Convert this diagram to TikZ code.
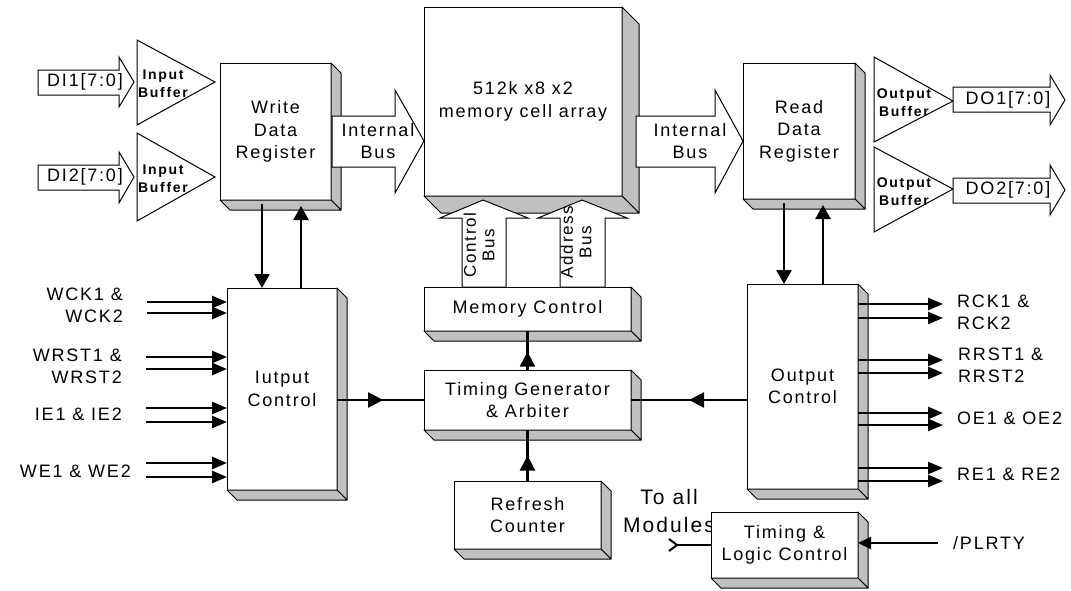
\documentclass[tikz,border=0pt]{standalone}
\usepackage{fontspec}
\setmainfont{Liberation Sans}
\newfontfamily\lab[LetterSpace=10]{Liberation Sans}
\newfontfamily\labb[LetterSpace=12]{Liberation Sans}
\usetikzlibrary{arrows.meta,calc,decorations.markings}
\definecolor{facegray}{HTML}{C0C0C0}
\newcommand\depthfaces[2]{%
  \draw[face] (#1.north east) -- ++(#2,#2) -- ($(#1.south east)+(#2,#2)$) -- (#1.south east) -- cycle;
  \draw[face] (#1.south west) -- (#1.south east) -- ($(#1.south east)+(#2,#2)$) -- ($(#1.south west)+(#2,#2)$) -- cycle;
}
\tikzset{
  blk/.style={draw, fill=white, line width=1pt, inner sep=0pt, outer sep=0pt, align=center, font=\lab\fontsize{18}{22.5}\selectfont},
  face/.style={draw, fill=facegray, line width=1pt, line join=round},
  shp/.style={draw, fill=white, line width=1pt, line join=miter},
  sig/.style={line width=2.6pt, -{Triangle[length=15pt,width=12pt]}},
  lnk/.style={line width=2.6pt, -{Triangle[length=14pt,width=15pt]}},
  midarr/.style={line width=2.2pt, postaction={decorate}, decoration={markings, mark=at position #1 with {\arrow{Triangle[length=15pt,width=15pt]}}}},
  txt/.style={font=\lab\fontsize{18}{22}\selectfont, align=center, inner sep=0pt},
  btxt/.style={font=\labb\bfseries\fontsize{14}{18}\selectfont, align=center, inner sep=0pt},
}
\begin{document}
\begin{tikzpicture}[x=1pt,y=-1pt]
\useasboundingbox (0,0) rectangle (1071,590);

% ---- boxes ----
\node[blk, minimum width=111pt, minimum height=137pt] (wdr) at (275.5,131.5) {Write\\Data\\Register};
\depthfaces{wdr}{10}
\node[blk, minimum width=198pt, minimum height=189pt] (mem) at (523,101.5) {512k x8 x2\\memory cell array};
\depthfaces{mem}{17}
\node[blk, minimum width=112pt, minimum height=136pt] (rdr) at (799,131) {Read\\Data\\Register};
\depthfaces{rdr}{10}
\node[blk, minimum width=110pt, minimum height=202pt] (iuc) at (282,389) {Iutput\\Control};
\depthfaces{iuc}{10}
\node[blk, minimum width=111pt, minimum height=205pt] (ouc) at (802.5,386.5) {Output\\Control};
\depthfaces{ouc}{10}
\node[blk, minimum width=207pt, minimum height=44pt] (mc) at (527.5,309) {Memory Control};
\depthfaces{mc}{10}
\node[blk, minimum width=207pt, minimum height=60pt] (tg) at (527.5,400) {Timing Generator\\\& Arbiter};
\depthfaces{tg}{10}
\node[blk, minimum width=147pt, minimum height=68pt] (rc) at (527.5,515) {Refresh\\Counter};
\depthfaces{rc}{10}
\node[txt, font=\lab\fontsize{21}{28}\selectfont] (tam) at (669,511) {To all\\Modules};
\node[blk, minimum width=147pt, minimum height=66pt] (tlc) at (784.5,545) {Timing \&\\Logic Control};
\depthfaces{tlc}{10}

% ---- input buffers ----
\draw[shp] (137,40) -- (215,82) -- (137,125) -- cycle;
\draw[shp] (137,133) -- (215,177) -- (137,221) -- cycle;
\node[btxt] (ib1) at (163,84) {Input\\Buffer};
\node[btxt] (ib2) at (163,179) {Input\\Buffer};
\draw[shp] (38,70) -- (119,70) -- (119,57) -- (134,82) -- (119,107) -- (119,95) -- (38,95) -- cycle;
\draw[shp] (38,165) -- (119,165) -- (119,152) -- (134,177) -- (119,203) -- (119,190) -- (38,190) -- cycle;
\node[txt] (di1) at (85,82) {DI1[7:0]};
\node[txt] (di2) at (85,177) {DI2[7:0]};

% ---- output buffers ----
\draw[shp] (874,57) -- (953,101) -- (874,142) -- cycle;
\draw[shp] (874,147) -- (953,189) -- (874,232) -- cycle;
\node[btxt] (ob1) at (904,102.5) {Output\\Buffer};
\node[btxt] (ob2) at (904,191.5) {Output\\Buffer};
\draw[shp] (953,87) -- (1050,87) -- (1050,75) -- (1065,100) -- (1050,125) -- (1050,112) -- (953,112) -- cycle;
\draw[shp] (953,178) -- (1050,178) -- (1050,165) -- (1065,190) -- (1050,215) -- (1050,203) -- (953,203) -- cycle;
\node[txt] (do1) at (1008,100) {DO1[7:0]};
\node[txt] (do2) at (1008,190) {DO2[7:0]};

% ---- internal buses ----
\draw[shp] (332,116) -- (395,116) -- (395,90) -- (424,141) -- (395,193) -- (395,167) -- (332,167) -- cycle;
\node[txt] (ib) at (378,141) {Internal\\Bus};
\draw[shp] (636,116) -- (715,116) -- (715,90) -- (743,141) -- (715,193) -- (715,167) -- (636,167) -- cycle;
\node[txt] (ob) at (690,141) {Internal\\Bus};

% ---- control / address buses ----
\draw[shp] (462,287) -- (462,218) -- (440,218) -- (483,200) -- (528,218) -- (506,218) -- (506,287) -- cycle;
\draw[shp] (560,287) -- (560,218) -- (538,218) -- (582,200) -- (627,218) -- (605,218) -- (605,287) -- cycle;
\node[txt, rotate=90, font=\lab\fontsize{17}{18.5}\selectfont] (cbl) at (479,245) {Control\\Bus};
\node[txt, rotate=90, font=\lab\fontsize{17}{18.5}\selectfont] (abl) at (576,242) {Address\\Bus};

% ---- register <-> control arrows ----
\path (wdr.south) ++(-13.5,4) coordinate (wd1);
\draw[lnk] (wd1) -- (wd1 |- iuc.north);
\path (wdr.south) ++(25.5,6) coordinate (wu1);
\draw[lnk] (wu1 |- iuc.north) -- (wu1);
\path (rdr.south) ++(-15,4) coordinate (rd1);
\draw[lnk] (rd1) -- (rd1 |- ouc.north);
\path (rdr.south) ++(24,6) coordinate (ru1);
\draw[lnk] (ru1 |- ouc.north) -- (ru1);

% ---- timing links ----
\draw[midarr=0.53] (iuc.east |- tg.west) -- (tg.west);
\draw[midarr=0.5] (ouc.west |- tg.east) -- (tg.east);
\draw[midarr=0.47] (tg.north) -- (mc.south);
\draw[midarr=0.5] (rc.north) -- (tg.south);

% ---- input signals ----
\coordinate (wck1) at (147,302); \coordinate (wck2) at (147,313);
\coordinate (wrst1) at (146,357); \coordinate (wrst2) at (146,369);
\coordinate (ie1) at (146,408); \coordinate (ie2) at (146,422);
\coordinate (we1) at (146,463); \coordinate (we2) at (146,477);
\foreach \c in {wck1,wck2,wrst1,wrst2,ie1,ie2,we1,we2}
  \draw[sig] (\c) -- (\c -| iuc.west);
\node[txt, align=right, anchor=east] (lwck) at (123,305) {WCK1 \&\\WCK2};
\node[txt, align=right, anchor=east] (lwrst) at (122,366) {WRST1 \&\\WRST2};
\node[txt, anchor=east] (lie) at (122,414) {IE1 \& IE2};
\node[txt, anchor=east] (lwe) at (131,471) {WE1 \& WE2};

% ---- output signals ----
\coordinate (rck1) at (943,304); \coordinate (rck2) at (943,318);
\coordinate (rrst1) at (943,360); \coordinate (rrst2) at (943,373);
\coordinate (oe1) at (943,413); \coordinate (oe2) at (943,425);
\coordinate (re1) at (943,468); \coordinate (re2) at (943,481);
\foreach \c in {rck1,rck2,rrst1,rrst2,oe1,oe2,re1,re2}
  \draw[sig] (\c -| ouc.east) -- (\c);
\node[txt, align=left, anchor=west] (lrck) at (957,312) {RCK1 \&\\RCK2};
\node[txt, align=left, anchor=west] (lrrst) at (958,365) {RRST1 \&\\RRST2};
\node[txt, anchor=west] (loe) at (957,418) {OE1 \& OE2};
\node[txt, anchor=west] (lre) at (957,474) {RE1 \& RE2};

% ---- timing & logic control ----
\coordinate (plr) at (938,543);
\draw[line width=2pt, -{Triangle[length=13pt,width=12pt]}] (plr) -- (plr -| tlc.east);
\node[txt, anchor=west] (lplr) at (953,543) {/PLRTY};
\coordinate (mod) at (668,545);
\draw[line width=2pt, {Straight Barb[reversed,length=8pt,width=12pt]}-] (mod) -- (mod -| tlc.west);
\end{tikzpicture}
\end{document}
